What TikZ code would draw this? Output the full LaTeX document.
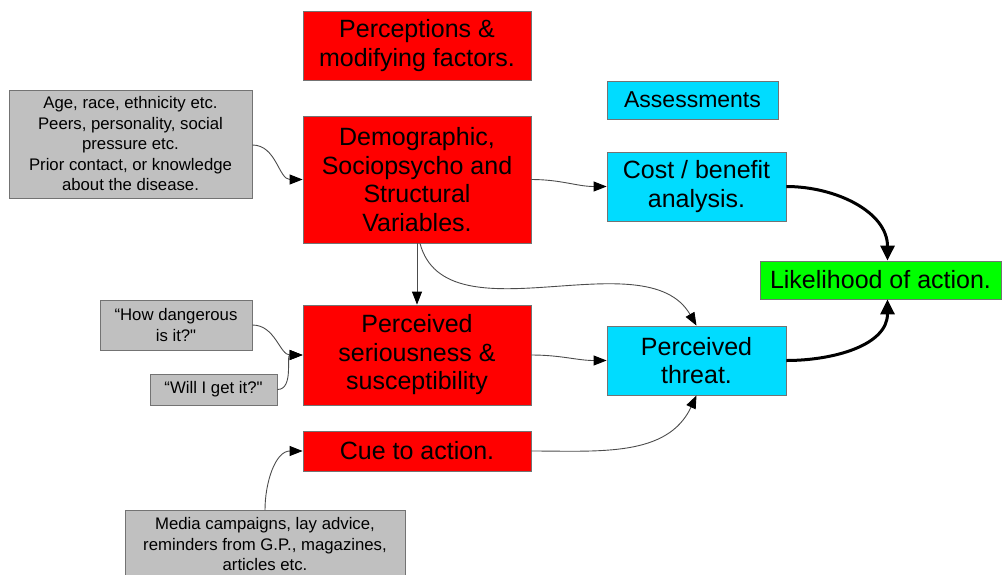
\documentclass[tikz,border=0pt]{standalone}
\usepackage{fontspec}
\setmainfont{Liberation Sans}[Ligatures=TeXOff]
\usetikzlibrary{arrows.meta}
\definecolor{cred}{RGB}{255,0,0}
\definecolor{ccyan}{RGB}{0,220,255}
\definecolor{cgreen}{RGB}{0,255,0}
\definecolor{cgray}{RGB}{192,192,192}
\tikzset{
  box/.style={draw=black!55, line width=0.8pt, align=center, inner sep=0pt, text=black},
  redbox/.style={box, fill=cred, font=\fontsize{25}{28.5}\selectfont},
  cyanbox/.style={box, fill=ccyan, font=\fontsize{25}{28.5}\selectfont},
  greenbox/.style={box, fill=cgreen, font=\fontsize{25}{28.5}\selectfont},
  graybox/.style={box, fill=cgray, font=\fontsize{16.75}{20.5}\selectfont},
  conn/.style={draw=black!70, line width=0.9pt, -{Triangle[length=13pt,width=10pt,color=black]}},
  bigconn/.style={draw=black, line width=3pt, -{Triangle[length=15pt,width=14pt]}}
}
\begin{document}
\begin{tikzpicture}[x=1pt,y=-1pt]
\useasboundingbox (0,0) rectangle (1003,574);
\node[redbox, minimum width=228pt, minimum height=69pt] (perc) at (417,45.5) {Perceptions \&\\modifying factors.};
\node[cyanbox, minimum width=171pt, minimum height=38pt, font=\fontsize{23}{27}\selectfont] (assess) at (692.5,100) {Assessments};
\node[graybox, minimum width=243pt, minimum height=108pt] (g1) at (130.5,144) {Age, race, ethnicity etc.\\Peers, personality,  social\\pressure etc.\\Prior contact, or knowledge\\about the disease.};
\node[redbox, minimum width=228pt, minimum height=127pt] (dem) at (417,179.5) {Demographic,\\Sociopsycho and\\Structural\\Variables.};
\node[cyanbox, minimum width=179pt, minimum height=69pt] (cost) at (696.5,186.5) {Cost / benefit\\analysis.};
\node[greenbox, minimum width=241pt, minimum height=38pt] (like) at (880.5,280) {Likelihood of action.};
\node[graybox, minimum width=152pt, minimum height=50pt] (how) at (176,325) {“How dangerous\\is it?"};
\node[redbox, minimum width=228pt, minimum height=100pt] (ser) at (417,355) {Perceived\\seriousness \&\\susceptibility};
\node[cyanbox, minimum width=179pt, minimum height=69pt] (threat) at (696.5,360.5) {Perceived\\threat.};
\node[graybox, minimum width=127pt, minimum height=31pt] (will) at (213.5,389.5) {“Will I get it?"};
\node[redbox, minimum width=228pt, minimum height=40pt] (cue) at (417,451) {Cue to action.};
\node[graybox, minimum width=280pt, minimum height=68pt, anchor=north] (media) at (265,510) {Media campaigns, lay advice,\\reminders from G.P., magazines,\\articles etc.};

\draw[conn] ([yshift=-1pt]g1.east) to[out=0,in=180] (dem.west);
\draw[conn] (dem.east) to[out=0,in=180] (cost.west);
\draw[conn] (dem.south) -- (ser.north);
\draw[conn] ([xshift=3pt]dem.south) to[out=-75,in=120,looseness=0.9] (threat.north);
\draw[conn] (ser.east) to[out=0,in=180] (threat.west);
\draw[conn] (how.east) to[out=0,in=180] (ser.west);
\draw[conn] (will.east) to[out=0,in=180] (ser.west);
\draw[conn] (cue.east) to[out=0,in=-115] (threat.south);
\draw[conn] (media.north) to[out=90,in=180] (cue.west);
\draw[bigconn] (cost.east) to[out=0,in=90] ([xshift=7pt]like.north);
\draw[bigconn] (threat.east) to[out=0,in=-90] ([xshift=7pt]like.south);
\end{tikzpicture}
\end{document}
